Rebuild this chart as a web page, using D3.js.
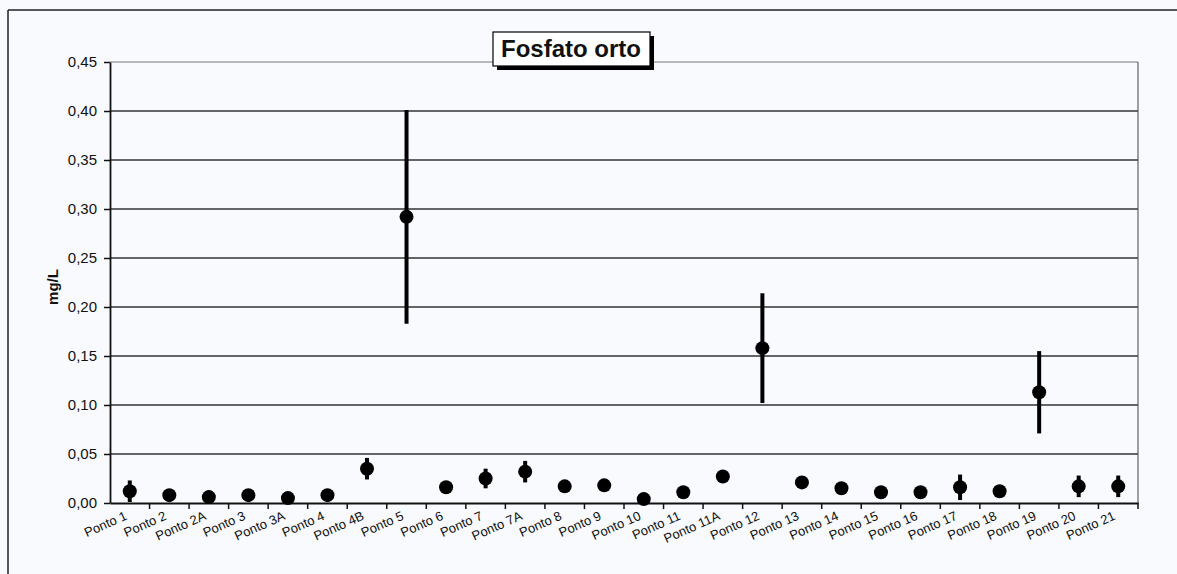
<!DOCTYPE html>
<html>
<head>
<meta charset="utf-8">
<script src="https://cdn.jsdelivr.net/npm/d3@7"></script>
<style>
  body { margin: 0; background: #f8fafd; }
  svg { display: block; }
</style>
</head>
<body>
<div id="chart"></div>
<script>
// pontos de coleta
var pontos = ["Ponto 1", "Ponto 2", "Ponto 2A", "Ponto 3", "Ponto 3A", "Ponto 4", "Ponto 4B",
    "Ponto 5", "Ponto 6", "Ponto 7", "Ponto 7A", "Ponto 8", "Ponto 9", "Ponto 10", "Ponto 11",
    "Ponto 11A", "Ponto 12", "Ponto 13", "Ponto 14", "Ponto 15", "Ponto 16", "Ponto 17",
    "Ponto 18", "Ponto 19", "Ponto 20", "Ponto 21"];
// media (mg/L)
var media = [0.012, 0.008, 0.006, 0.008, 0.005, 0.008, 0.035,
    0.292, 0.016, 0.025, 0.032, 0.017, 0.018, 0.004, 0.011,
    0.027, 0.158, 0.021, 0.015, 0.011, 0.011, 0.016,
    0.012, 0.113, 0.017, 0.017];
// desvio (mg/L)
var desvio = [0.011, 0, 0, 0, 0, 0, 0.011,
    0.109, 0, 0.010, 0.011, 0.005, 0.004, 0, 0,
    0, 0.056, 0, 0, 0, 0, 0.013,
    0, 0.042, 0.011, 0.011];
var yTicks = [0, 0.05, 0.10, 0.15, 0.20, 0.25, 0.30, 0.35, 0.40, 0.45];

var width = 1177, height = 574;
var plotLeft = 110, plotRight = 1138, plotTop = 62, plotBottom = 503;
var fontFamily = "Liberation Sans, Arial, sans-serif";

var svg = d3.select("#chart").append("svg")
    .attr("width", width)
    .attr("height", height);

// moldura externa
svg.append("line").attr("x1", 8).attr("x2", width).attr("y1", 10).attr("y2", 10)
    .attr("stroke", "#222").attr("stroke-width", 1.5);
svg.append("line").attr("x1", 8).attr("x2", 8).attr("y1", 10).attr("y2", height)
    .attr("stroke", "#222").attr("stroke-width", 1.5);

var x = d3.scaleBand().domain(pontos).range([plotLeft, plotRight]);
var y = d3.scaleLinear().domain([0, 0.45]).range([plotBottom, plotTop]);
var fmt = function (d) { return d3.format(".2f")(d).replace(".", ","); };

// linhas de grade
svg.append("g").selectAll("line")
    .data(yTicks.filter(function (d) { return d > 0; }))
    .enter().append("line")
    .attr("x1", plotLeft).attr("x2", plotRight)
    .attr("y1", function (d) { return y(d); })
    .attr("y2", function (d) { return y(d); })
    .attr("stroke", function (d) { return d === 0.45 ? "#777" : "#333"; })
    .attr("stroke-width", function (d) { return d === 0.45 ? 1 : 1.3; });

// borda direita
svg.append("line").attr("x1", plotRight).attr("x2", plotRight).attr("y1", plotTop).attr("y2", plotBottom)
    .attr("stroke", "#444").attr("stroke-width", 1);

var yAxis = svg.append("g")
    .attr("transform", "translate(" + plotLeft + ",0)")
    .call(d3.axisLeft(y).tickValues(yTicks).tickFormat(fmt).tickSize(6).tickPadding(7).tickSizeOuter(0));
yAxis.select(".domain").attr("stroke", "#111").attr("stroke-width", 1.8);
yAxis.selectAll(".tick line").attr("stroke", "#111").attr("stroke-width", 1.5);
yAxis.selectAll("text")
    .attr("font-family", fontFamily)
    .attr("font-size", "15px")
    .attr("fill", "#111");

var xAxis = svg.append("g")
    .attr("transform", "translate(0," + plotBottom + ")")
    .call(d3.axisBottom(x).tickValues([]).tickSizeOuter(0));
xAxis.select(".domain").attr("stroke", "#111").attr("stroke-width", 1.8);

// marcas entre categorias
svg.append("g").selectAll("line")
    .data(pontos)
    .enter().append("line")
    .attr("x1", function (d) { return x(d) + x.bandwidth(); })
    .attr("x2", function (d) { return x(d) + x.bandwidth(); })
    .attr("y1", plotBottom).attr("y2", plotBottom + 6)
    .attr("stroke", "#111").attr("stroke-width", 1.5);

// rotulos do eixo x
svg.append("g").selectAll("text")
    .data(pontos)
    .enter().append("text")
    .attr("transform", function (d) {
        return "translate(" + (x(d) + x.bandwidth() / 2 - 2) + "," + (plotBottom + 16) + ") rotate(-24)";
    })
    .attr("text-anchor", "end")
    .attr("font-family", fontFamily)
    .attr("font-size", "13px")
    .attr("fill", "#111")
    .text(function (d) { return d; });

// barras de erro
svg.append("g").selectAll("line")
    .data(pontos.filter(function (d, i) { return desvio[i] > 0; }))
    .enter().append("line")
    .attr("x1", function (d) { return x(d) + x.bandwidth() / 2; })
    .attr("x2", function (d) { return x(d) + x.bandwidth() / 2; })
    .attr("y1", function (d) { var i = pontos.indexOf(d); return y(media[i] + desvio[i]); })
    .attr("y2", function (d) { var i = pontos.indexOf(d); return y(Math.max(0, media[i] - desvio[i])); })
    .attr("stroke", "#000").attr("stroke-width", 4);

// pontos
svg.append("g").selectAll("circle")
    .data(pontos)
    .enter().append("circle")
    .attr("cx", function (d) { return x(d) + x.bandwidth() / 2; })
    .attr("cy", function (d, i) { return y(media[i]); })
    .attr("r", 7)
    .attr("fill", "#000");

// titulo do eixo y
svg.append("text")
    .attr("transform", "translate(58,287) rotate(-90)")
    .attr("text-anchor", "middle")
    .attr("font-family", fontFamily)
    .attr("font-weight", "bold")
    .attr("font-size", "15px")
    .attr("fill", "#111")
    .text("mg/L");

// titulo
svg.append("rect").attr("x", 497).attr("y", 36).attr("width", 157).attr("height", 34)
    .attr("fill", "#000");
svg.append("rect").attr("x", 493).attr("y", 32).attr("width", 157).attr("height", 34)
    .attr("fill", "#fff").attr("stroke", "#000").attr("stroke-width", 1.2);
svg.append("text")
    .attr("x", 571).attr("y", 57)
    .attr("text-anchor", "middle")
    .attr("font-family", fontFamily)
    .attr("font-weight", "bold")
    .attr("font-size", "24px")
    .attr("fill", "#111")
    .text("Fosfato orto");
</script>
</body>
</html>
